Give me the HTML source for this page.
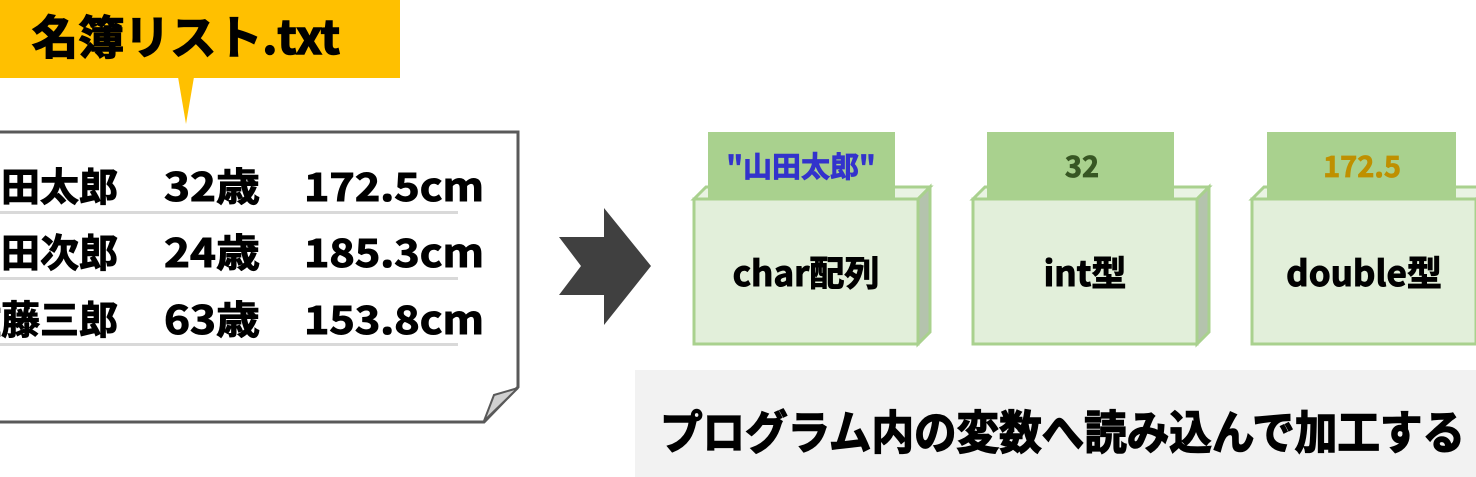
<!DOCTYPE html>
<html><head><meta charset="utf-8"><style>
html,body{margin:0;padding:0;background:#fff;width:1476px;height:477px;overflow:hidden}
svg{display:block}
text{font-family:"Noto Sans CJK JP","Liberation Sans",sans-serif;font-weight:bold}
</style></head><body>
<svg width="1476" height="477" viewBox="0 0 1476 477" xmlns="http://www.w3.org/2000/svg">
<!-- banner -->
<rect x="0" y="0" width="400" height="78" fill="#ffc000"/>
<polygon points="178,77 194,77 186,124" fill="#ffc000"/>
<text x="32" y="54" font-size="46" fill="#000" stroke="#000" stroke-width="1.5" textLength="308" lengthAdjust="spacingAndGlyphs">名簿リスト.txt</text>
<!-- document -->
<path d="M-5,132 L518,132 L518,387 L484,422 L-5,422" fill="#fff" stroke="#595959" stroke-width="3"/>
<polygon points="518,388 494,395 484,421" fill="#d0d0d0" stroke="#595959" stroke-width="2"/>
<g fill="#000" stroke="#000" stroke-width="1" font-size="39">
<text x="-38" y="201">山田太郎</text><text x="164" y="201" textLength="96" lengthAdjust="spacingAndGlyphs">32歳</text><text x="304" y="201" textLength="180" lengthAdjust="spacingAndGlyphs">172.5cm</text>
<text x="-38" y="267">山田次郎</text><text x="164" y="267" textLength="96" lengthAdjust="spacingAndGlyphs">24歳</text><text x="304" y="267" textLength="180" lengthAdjust="spacingAndGlyphs">185.3cm</text>
<text x="-38" y="334">佐藤三郎</text><text x="164" y="334" textLength="96" lengthAdjust="spacingAndGlyphs">63歳</text><text x="304" y="334" textLength="180" lengthAdjust="spacingAndGlyphs">153.8cm</text>
</g>
<g fill="#d9d9d9">
<rect x="0" y="211" width="458" height="3"/>
<rect x="0" y="277" width="458" height="3"/>
<rect x="0" y="343" width="458" height="3"/>
</g>
<!-- arrow -->
<polygon points="559,237 604,237 604,208 651,266 604,325 604,295 559,295 581,266" fill="#404040"/>
<!-- boxes -->
<g stroke="#a9d18e" stroke-width="3">
<polygon points="694,199 706,187 930,187 918,199" fill="#e9f3e3"/>
<polygon points="918,199 930,187 930,332 918,344" fill="#b4c3ad"/>
<rect x="694" y="199" width="224" height="145" fill="#e2efda"/>
<polygon points="973,199 985,187 1209,187 1197,199" fill="#e9f3e3"/>
<polygon points="1197,199 1209,187 1209,332 1197,344" fill="#b4c3ad"/>
<rect x="973" y="199" width="224" height="145" fill="#e2efda"/>
<polygon points="1252,199 1264,187 1488,187 1476,199" fill="#e9f3e3"/>
<rect x="1252" y="199" width="224" height="145" fill="#e2efda"/>
</g>
<g fill="#a9d18e">
<rect x="708" y="132" width="187" height="66"/>
<rect x="987" y="132" width="187" height="66"/>
<rect x="1267" y="132" width="189" height="66"/>
</g>
<g font-size="29" text-anchor="middle" stroke-width="0.8">
<text x="801" y="177" fill="#3333cc" stroke="#3333cc">"山田太郎"</text>
<text x="1082" y="177" fill="#375623" stroke="#375623">32</text>
<text x="1362" y="177" fill="#bf9000" stroke="#bf9000">172.5</text>
</g>
<g font-size="35" text-anchor="middle" fill="#000" stroke="#000" stroke-width="1">
<text x="806" y="286">char配列</text>
<text x="1085" y="286">int型</text>
<text x="1364" y="286">double型</text>
</g>
<!-- caption -->
<rect x="635" y="370" width="841" height="107" fill="#f2f2f2"/>
<text x="660" y="449" font-size="46" fill="#000" stroke="#000" stroke-width="1.5" textLength="805" lengthAdjust="spacingAndGlyphs">プログラム内の変数へ読み込んで加工する</text>
</svg>
</body></html>
